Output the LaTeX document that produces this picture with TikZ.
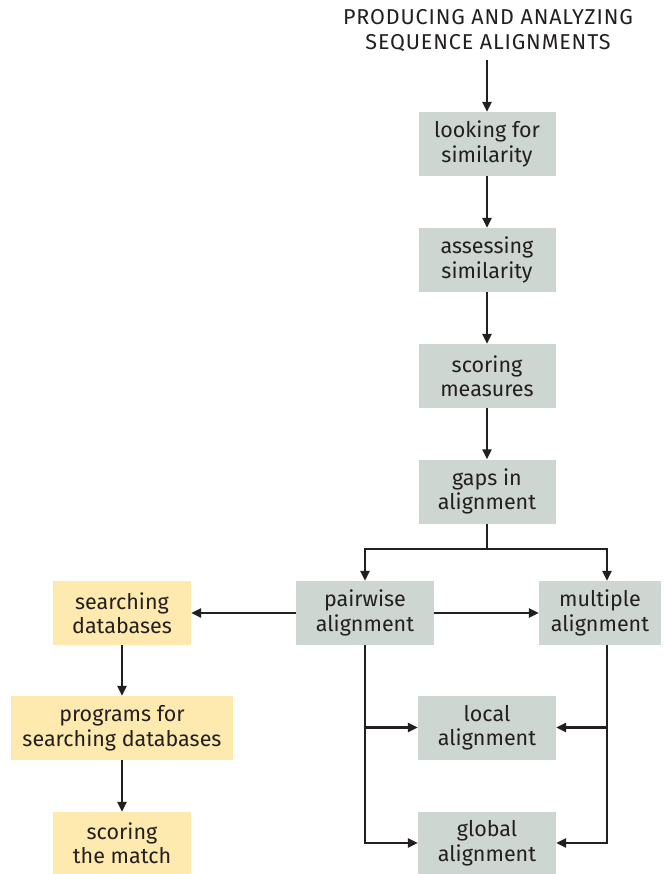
\documentclass[tikz,border=0pt]{standalone}
\usepackage{fontspec}
\setmainfont{Fira Sans}
\usetikzlibrary{arrows.meta}
\definecolor{boxgray}{RGB}{205,214,209}
\definecolor{boxyellow}{RGB}{254,234,174}
\definecolor{ink}{RGB}{35,31,32}
\begin{document}
\begin{tikzpicture}[x=1pt,y=-1pt,
  every node/.style={font=\fontsize{21.5}{24.5}\selectfont, text=ink, align=center, inner sep=0pt},
  gbox/.style={fill=boxgray, minimum width=137pt, minimum height=64pt},
  ybox/.style={fill=boxyellow, minimum height=64pt},
  conn/.style={draw=ink, line width=2.4pt, -{Triangle[length=10pt,width=9pt]}},
  wire/.style={draw=ink, line width=2.4pt}]
\useasboundingbox[fill=white] (0,0) rectangle (663,874);

% main column
\node[font=\fontsize{21.5}{25}\selectfont\addfontfeature{LetterSpace=4}] (title) at (488,31)
  {PRODUCING AND ANALYZING\\SEQUENCE ALIGNMENTS};
\node[gbox] (look)   at (487,144)   {looking for\\similarity};
\node[gbox] (assess) at (487,260)   {assessing\\similarity};
\node[gbox] (score)  at (487,376)   {scoring\\measures};
\node[gbox] (gaps)   at (487,491.5) {gaps in\\alignment};

% alignment kinds
\node[gbox, minimum width=138pt] (pair)  at (365,613)   {pairwise\\alignment};
\node[gbox, minimum width=122pt] (multi) at (600,613)   {multiple\\alignment};
\node[gbox, minimum width=138pt] (local) at (487,727.5) {local\\alignment};
\node[gbox, minimum width=138pt, minimum height=62pt] (global) at (487,843) {global\\alignment};

% database search column
\node[ybox, minimum width=138pt] (search) at (122,613) {searching\\databases};
\node[ybox, minimum width=222pt] (progs)  at (122,728) {programs for\\searching databases};
\node[ybox, minimum width=138pt, minimum height=62pt] (match) at (122,843) {scoring\\the match};

% connectors along the main column
\coordinate (start) at (487,60);
\draw[conn] (start) -- (look.north);
\draw[conn] (look.south) -- (assess.north);
\draw[conn] (assess.south) -- (score.north);
\draw[conn] (score.south) -- (gaps.north);

% split below gaps
\coordinate (split) at ([yshift=-25pt]gaps.south);
\coordinate (mtop) at ([xshift=7pt]multi.north);
\coordinate (mbot) at ([xshift=7pt]multi.south);
\draw[wire] (gaps.south) -- (split);
\draw[conn] (split) -| (pair.north);
\draw[conn] (split) -| (mtop);

% sideways links from pairwise
\draw[conn] (pair.east) -- (multi.west);
\draw[conn] (pair.west) -- (search.east);

% branches to local and global
\draw[conn] (pair.south) |- (global.west);
\draw[conn] (pair.south |- local.west) -- (local.west);
\draw[conn] (mbot) |- (global.east);
\draw[conn] (mbot |- local.east) -- (local.east);

% database column links
\draw[conn] (search.south) -- (progs.north);
\draw[conn] (progs.south) -- (match.north);
\end{tikzpicture}
\end{document}
